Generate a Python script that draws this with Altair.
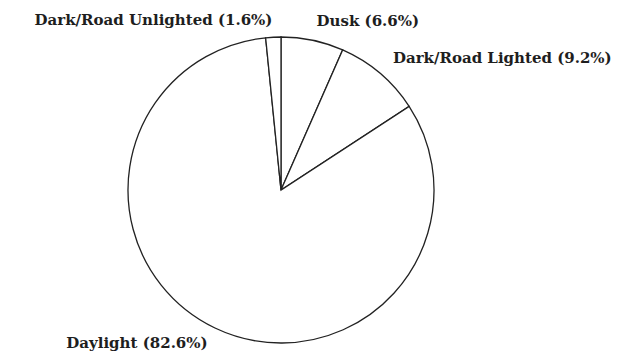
import altair as alt
import pandas as pd

categories = ["Dusk", "Dark/Road Lighted", "Daylight", "Dark/Road Unlighted"]
shares = [6.6, 9.2, 82.6, 1.6]
labels = ["Dusk (6.6%)", "Dark/Road Lighted (9.2%)", "Daylight (82.6%)", "Dark/Road Unlighted (1.6%)"]
slice_order = [0, 1, 2, 3]
label_side = ["left", "left", "right", "right"]

df = pd.DataFrame({
    "category": categories,
    "share": shares,
    "label": labels,
    "ord": slice_order,
    "side": label_side,
})

CX, CY = 273, 182
FONT = "DejaVu Serif"

theta_scale = alt.Scale(domain=[0, 100], range=[0, 6.283185307])

pie = alt.Chart(df).mark_arc(
    radius=153, fill="white", stroke="#222", strokeWidth=1.3
).encode(
    theta=alt.Theta("share:Q", stack=True, scale=theta_scale),
    order=alt.Order("ord:Q"),
    x=alt.value(CX), y=alt.value(CY),
)

lab_base = alt.Chart(df).transform_window(
    cum="sum(share)", sort=[alt.SortField("ord")]
).transform_calculate(
    mid="datum.cum - datum.share / 2"
).encode(
    theta=alt.Theta("mid:Q", stack=None, scale=theta_scale),
    text="label:N",
    x=alt.value(CX), y=alt.value(CY),
)

lab_left = lab_base.transform_filter("datum.side == 'left'").mark_text(
    radius=173, align="left", baseline="middle", font=FONT, fontWeight="bold",
    fontSize=15, color="#1e1e1e"
)
lab_right = lab_base.transform_filter("datum.side == 'right'").mark_text(
    radius=170, align="right", baseline="middle", font=FONT, fontWeight="bold",
    fontSize=15, color="#1e1e1e"
)

chart = alt.layer(pie, lab_left, lab_right).properties(
    width=618, height=344, autosize="none", padding=0, background="white"
).configure_view(stroke=None)

chart.save("out.html", embed_options={"renderer": "svg", "actions": False})
